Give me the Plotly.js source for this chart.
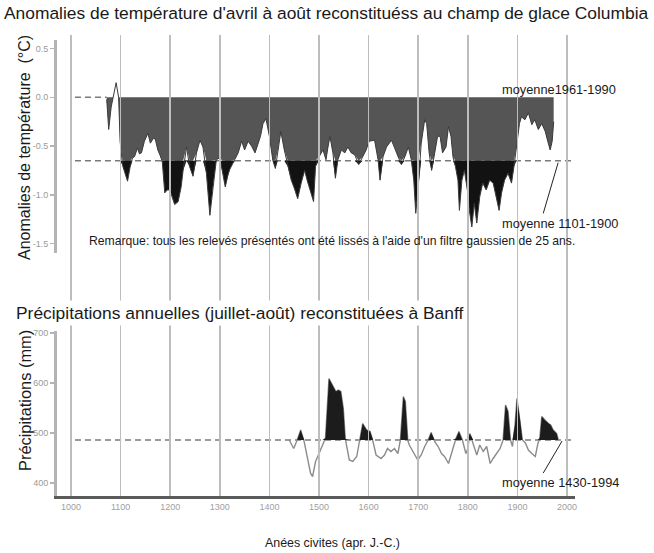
<!DOCTYPE html>
<html>
<head>
<meta charset="utf-8">
<script src="https://cdn.plot.ly/plotly-3.0.1.min.js"></script>
<style>html,body{margin:0;padding:0;background:#fff;}#chart{width:654px;height:553px;}</style>
</head>
<body>
<div id="chart"></div>
<script>
// ---- Data ----
const tempYears = [1072,1076,1081,1085,1091,1096,1099,1104,1110,1114,1119,1124,1128,1134,1138,1142,1148,1155,1160,1166,1170,1175,1180,1184,1189,1194,1199,1204,1209,1216,1222,1226,1233,1239,1246,1253,1260,1266,1273,1280,1286,1293,1300,1305,1311,1316,1320,1326,1331,1337,1344,1350,1357,1364,1371,1377,1382,1387,1393,1400,1407,1412,1417,1423,1430,1437,1444,1450,1457,1464,1471,1476,1484,1489,1493,1500,1508,1514,1518,1522,1528,1533,1538,1545,1552,1558,1565,1572,1580,1588,1595,1601,1612,1619,1623,1629,1636,1646,1652,1659,1666,1673,1680,1686,1691,1695,1700,1706,1713,1717,1722,1727,1732,1739,1744,1749,1756,1761,1766,1770,1775,1780,1783,1788,1793,1799,1803,1808,1813,1818,1824,1830,1837,1844,1851,1857,1863,1868,1874,1881,1888,1893,1898,1904,1908,1915,1922,1929,1935,1942,1949,1956,1961,1966,1970,1973];
const tempAnom = [-0.02,-0.33,-0.10,0.00,0.15,0.00,-0.45,-0.70,-0.80,-0.86,-0.72,-0.62,-0.61,-0.52,-0.58,-0.57,-0.45,-0.37,-0.47,-0.42,-0.43,-0.54,-0.60,-0.66,-0.98,-0.95,-0.95,-1.02,-1.10,-1.07,-0.92,-0.75,-0.51,-0.71,-0.81,-0.57,-0.44,-0.51,-0.78,-1.21,-0.92,-0.64,-0.62,-0.75,-0.92,-0.80,-0.74,-0.68,-0.63,-0.57,-0.45,-0.54,-0.45,-0.50,-0.57,-0.47,-0.40,-0.27,-0.22,-0.40,-0.65,-0.73,-0.54,-0.35,-0.54,-0.71,-0.85,-0.93,-1.04,-0.88,-0.75,-0.85,-0.98,-1.07,-0.71,-0.61,-0.54,-0.64,-0.51,-0.40,-0.57,-0.83,-0.64,-0.54,-0.57,-0.51,-0.57,-0.59,-0.69,-0.61,-0.54,-0.45,-0.44,-0.64,-0.85,-0.61,-0.51,-0.44,-0.51,-0.61,-0.69,-0.61,-0.51,-0.64,-0.85,-1.19,-0.92,-0.47,-0.23,-0.27,-0.57,-0.75,-0.61,-0.40,-0.40,-0.57,-0.51,-0.30,-0.40,-0.61,-0.71,-0.85,-1.16,-0.85,-0.75,-0.95,-1.16,-1.33,-1.09,-1.29,-1.02,-0.88,-0.95,-0.85,-0.88,-1.02,-1.16,-0.98,-0.85,-0.78,-0.88,-0.71,-0.51,-0.27,-0.20,-0.23,-0.16,-0.28,-0.23,-0.33,-0.27,-0.35,-0.45,-0.54,-0.45,-0.25];

const precipYears = [1440,1449,1456,1463,1470,1476,1483,1487,1493,1500,1507,1513,1520,1527,1534,1539,1544,1549,1553,1561,1568,1576,1582,1588,1596,1603,1609,1615,1625,1632,1638,1645,1652,1659,1664,1670,1674,1679,1682,1689,1699,1706,1713,1720,1726,1733,1740,1747,1753,1761,1769,1776,1782,1789,1796,1800,1804,1811,1818,1824,1831,1838,1845,1851,1858,1865,1871,1876,1881,1886,1890,1895,1899,1905,1910,1916,1922,1929,1936,1941,1945,1949,1955,1962,1967,1972,1979,1982];
const precipMm = [486,469,486,506,483,456,419,413,443,459,476,490,609,596,583,586,583,549,488,446,443,453,486,519,506,503,482,456,449,456,469,463,469,459,486,573,563,485,476,463,446,456,473,486,501,483,473,459,453,439,466,489,503,486,459,469,499,479,456,476,463,473,439,449,459,469,486,556,543,486,473,516,569,529,486,480,466,459,453,478,490,533,526,519,516,506,499,488];

const tempMean1961 = 0.0;      // moyenne 1961-1990
const tempMean1101 = -0.65;    // moyenne 1101-1900
const precipMean = 486;        // moyenne 1430-1994

const xTickVals = [1000,1100,1200,1300,1400,1500,1600,1700,1800,1900,2000];
const xTickText = ['1000','1100','1200','1300','1400','1500','1600','1700','1800','1900','2000'];
const tempTickVals = [0.5,0.0,-0.5,-1.0,-1.5];
const tempTickText = ['0.5','0.0','-0.5','-1.0','-1.5'];
const precipTickVals = [700,600,500,400];
const precipTickText = ['700','600','500','400'];

// reference-line extent (years)
const refLineStart = 1008;
const refLineEnd = 2016;

// ---- Layout helpers (pixel -> paper) ----
const L = 57, R = 79, T = 35, B = 57, W = 654, H = 553;
const pw = W - L - R, ph = H - T - B;
const px = x => (x - L) / pw;
const py = y => (H - B - y) / ph;

const FONT = 'Liberation Sans, Arial, sans-serif';

// ---- Traces ----
const grayY = tempAnom.map(v => Math.max(Math.min(v, tempMean1961), tempMean1101));
const blackY = tempAnom.map(v => Math.min(v, tempMean1101));
const pBlackY = precipMm.map(v => Math.max(v, precipMean));

const noHover = {hoverinfo: 'skip', showlegend: false};
const traces = [
  Object.assign({x: [], y: [], xaxis: 'x', yaxis: 'y3', type: 'scatter', mode: 'lines'}, noHover),
  Object.assign({x: tempYears, y: tempYears.map(() => tempMean1961), xaxis: 'x', yaxis: 'y', mode: 'lines', line: {width: 0}}, noHover),
  Object.assign({x: tempYears, y: grayY, xaxis: 'x', yaxis: 'y', mode: 'lines', line: {width: 0}, fill: 'tonexty', fillcolor: '#555555'}, noHover),
  Object.assign({x: tempYears, y: tempYears.map(() => tempMean1101), xaxis: 'x', yaxis: 'y', mode: 'lines', line: {width: 0}}, noHover),
  Object.assign({x: tempYears, y: blackY, xaxis: 'x', yaxis: 'y', mode: 'lines', line: {width: 0}, fill: 'tonexty', fillcolor: '#121212'}, noHover),
  Object.assign({x: tempYears, y: tempAnom, xaxis: 'x', yaxis: 'y', mode: 'lines', line: {color: '#3a3a3a', width: 1}}, noHover),
  Object.assign({x: precipYears, y: precipMm, xaxis: 'x', yaxis: 'y2', mode: 'lines', line: {color: '#8c8c8c', width: 1.4}}, noHover),
  Object.assign({x: precipYears, y: precipYears.map(() => precipMean), xaxis: 'x', yaxis: 'y2', mode: 'lines', line: {width: 0}}, noHover),
  Object.assign({x: precipYears, y: pBlackY, xaxis: 'x', yaxis: 'y2', mode: 'lines', line: {width: 0}, fill: 'tonexty', fillcolor: '#1c1c1c'}, noHover)
];

// ---- Shapes ----
const dashLine = {color: '#7a7a7a', width: 1.5, dash: '6px,4px'};
const shapes = [
  {type: 'line', xref: 'x', yref: 'y', x0: refLineStart, x1: tempYears[0], y0: tempMean1961, y1: tempMean1961, line: dashLine, layer: 'between'},
  {type: 'line', xref: 'x', yref: 'y', x0: refLineStart, x1: refLineEnd, y0: tempMean1101, y1: tempMean1101, line: dashLine, layer: 'between'},
  {type: 'line', xref: 'x', yref: 'y2', x0: refLineStart, x1: refLineEnd, y0: precipMean, y1: precipMean, line: dashLine, layer: 'between'},
  {type: 'line', xref: 'x', yref: 'y', x0: 1982, x1: 1952, y0: tempMean1101 - 0.02, y1: -1.19, line: {color: '#222', width: 1}},
  {type: 'line', xref: 'x', yref: 'y2', x0: 1990, x1: 1952, y0: precipMean - 2, y1: 420, line: {color: '#222', width: 1}}
];

// ---- Annotations ----
const txt = (text, x, y, size, extra) => Object.assign({
  text: text, xref: 'paper', yref: 'paper', x: px(x), y: py(y),
  xanchor: 'left', yanchor: 'middle', showarrow: false,
  font: {family: FONT, size: size, color: '#1a1a1a'}
}, extra || {});

const annotations = [
  txt('moyenne1961-1990', 500, 89, 12.8),
  txt('moyenne 1101-1900', 500, 223, 12.8),
  txt("Remarque: tous les relevés présentés ont été lissés à l'aide d'un filtre gaussien de 25 ans.", 87, 241, 12.2),
  txt('Précipitations annuelles (juillet-août) reconstituées à Banff', 13, 313, 17.4, {bgcolor: '#ffffff', borderpad: 2}),
  txt('moyenne 1430-1994', 500, 482, 12.8),
  txt('Anomalies de température  (°C)', 24, 148, 16, {xanchor: 'center', textangle: -90}),
  txt('Précipitations (mm)', 25, 401, 16.4, {xanchor: 'center', textangle: -90}),
  txt('Anées civites (apr. J.-C.)', 332, 543, 12.4, {xanchor: 'center'})
];

const yTickFont = {family: FONT, size: 9, color: '#9a9a9a'};

const layout = {
  width: W, height: H,
  margin: {l: L, r: R, t: T, b: B, pad: 0},
  paper_bgcolor: '#ffffff', plot_bgcolor: 'rgba(0,0,0,0)',
  showlegend: false,
  title: {
    text: "Anomalies de température d'avril à août reconstituéss au champ de glace Columbia",
    xref: 'container', yref: 'container', x: 4 / W, xanchor: 'left', y: 1 - 13 / H, yanchor: 'middle',
    font: {family: FONT, size: 17.4, color: '#1a1a1a'}
  },
  xaxis: {
    range: [971.8, 2016], anchor: 'y2',
    tickmode: 'array', tickvals: xTickVals, ticktext: xTickText,
    showgrid: true, gridcolor: '#bdbdbd', gridwidth: 1.5,
    showline: true, linecolor: '#5a5a5a', linewidth: 3,
    ticks: '', tickfont: {family: FONT, size: 9, color: '#a0a0a0'},
    zeroline: false, fixedrange: true
  },
  yaxis: {
    domain: [py(253), py(40)], range: [-1.597, 0.588], anchor: 'x',
    tickmode: 'array', tickvals: tempTickVals, ticktext: tempTickText,
    showgrid: false, zeroline: false,
    showline: true, linecolor: '#b4b4b4', linewidth: 3,
    ticks: 'outside', ticklen: 4, tickcolor: '#b4b4b4', tickwidth: 1.5,
    tickfont: yTickFont, fixedrange: true
  },
  yaxis2: {
    domain: [0, py(331)], range: [374, 704], anchor: 'x',
    tickmode: 'array', tickvals: precipTickVals, ticktext: precipTickText,
    showgrid: false, zeroline: false,
    showline: true, linecolor: '#b4b4b4', linewidth: 3,
    ticks: 'outside', ticklen: 4, tickcolor: '#b4b4b4', tickwidth: 1.5,
    tickfont: yTickFont, fixedrange: true
  },
  yaxis3: {
    domain: [0, 1], range: [0, 1], anchor: 'x', visible: false,
    showgrid: false, zeroline: false, fixedrange: true
  },
  shapes: shapes,
  annotations: annotations
};

Plotly.newPlot('chart', traces, layout, {staticPlot: true, displayModeBar: false});
</script>
</body>
</html>
